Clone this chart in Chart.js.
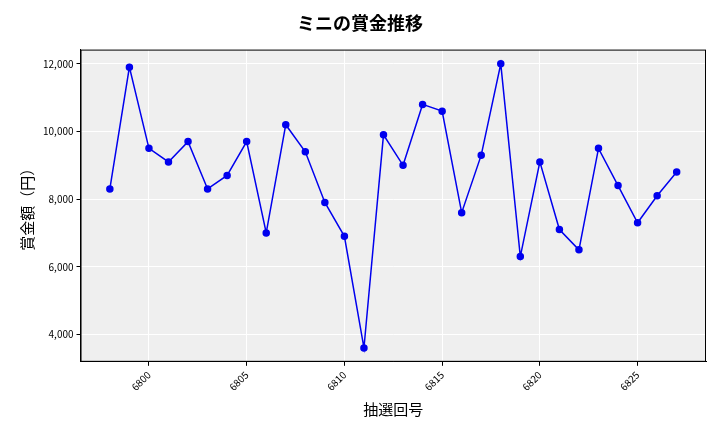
<!DOCTYPE html>
<html><head><meta charset="utf-8">
<script src="https://cdn.jsdelivr.net/npm/chart.js"></script>
<style>html,body{margin:0;padding:0;background:#fff}#w{width:720px;height:432px}</style>
</head><body><div id="w"><canvas id="c"></canvas></div>
<script>
const draws = [6798,6799,6800,6801,6802,6803,6804,6805,6806,6807,6808,6809,6810,6811,6812,6813,6814,6815,6816,6817,6818,6819,6820,6821,6822,6823,6824,6825,6826,6827];
const prizes = [8300,11900,9500,9100,9700,8300,8700,9700,7000,10200,9400,7900,6900,3600,9900,9000,10800,10600,7600,9300,12000,6300,9100,7100,6500,9500,8400,7300,8100,8800];
const F = "'Noto Sans CJK JP', 'Noto Sans', sans-serif";
const bg = {id:'bg',beforeDraw(c){const a=c.chartArea,x=c.ctx;x.save();x.fillStyle='#efefef';x.fillRect(a.left,a.top,a.right-a.left,a.bottom-a.top);x.restore();},
afterDraw(c){const a=c.chartArea,x=c.ctx;x.save();x.strokeStyle='#000';x.lineWidth=1;x.strokeRect(a.left+0.5,a.top+0.5,a.right-a.left-1,a.bottom-a.top-1);x.restore();}};
new Chart(document.getElementById('c'),{
type:'line',
data:{datasets:[{data:draws.map((d,i)=>({x:d,y:prizes[i]})),borderColor:'#0000ee',backgroundColor:'#0000ee',borderWidth:1.5,pointRadius:3,pointHoverRadius:3,tension:0}]},
options:{responsive:true,maintainAspectRatio:false,animation:false,
layout:{padding:{left:14,right:14,top:8,bottom:10}},
plugins:{legend:{display:false},tooltip:{enabled:false},
title:{display:true,text:'ミニの賞金推移',font:{family:F,size:18,weight:'bold'},color:'#000',padding:{top:4,bottom:16}}},
scales:{
x:{type:'linear',min:6796.5,max:6828.5,border:{display:true,color:'#000'},
ticks:{maxRotation:45,minRotation:45,font:{family:F,size:10},color:'#000',callback:v=>String(v)},
afterBuildTicks(s){s.ticks=[6800,6805,6810,6815,6820,6825].map(v=>({value:v}));},
grid:{color:'#ffffff',lineWidth:1,drawTicks:true,tickColor:'#000',tickLength:4},
title:{display:true,text:'抽選回号',font:{family:F,size:15},color:'#000'}},
y:{min:3190,max:12420,border:{display:true,color:'#000'},
afterBuildTicks(s){s.ticks=[4000,6000,8000,10000,12000].map(v=>({value:v}));},
ticks:{font:{family:F,size:10},color:'#000',callback:v=>v.toLocaleString('en-US')},
grid:{color:'#ffffff',lineWidth:1,tickColor:'#000',tickLength:4},
title:{display:true,text:'賞金額（円）',font:{family:F,size:15},color:'#000'}}
}},plugins:[bg]});
</script></body></html>
